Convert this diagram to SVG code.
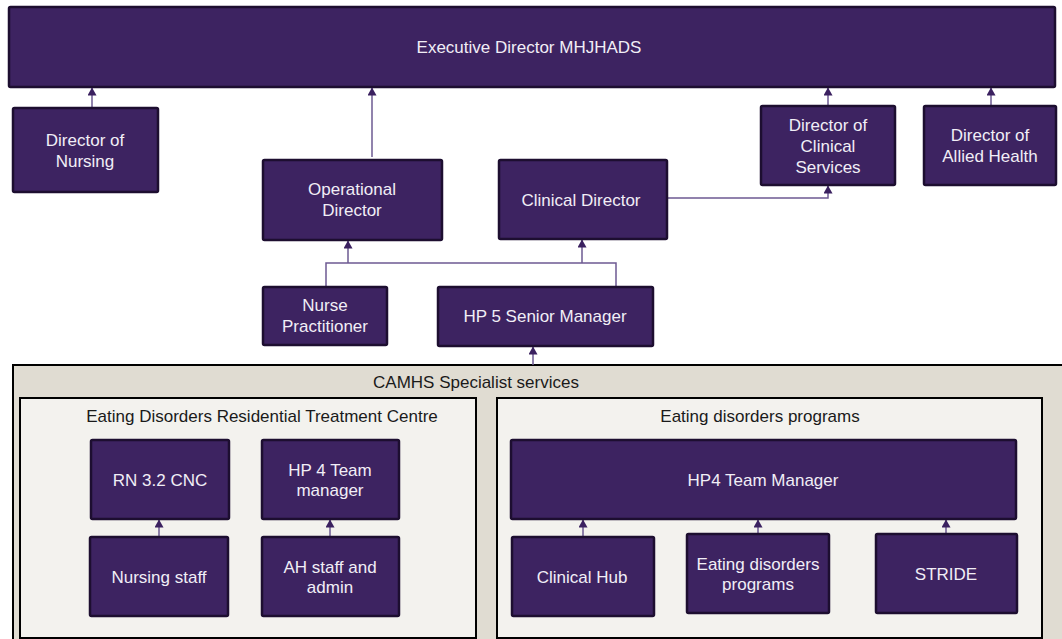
<svg xmlns="http://www.w3.org/2000/svg" width="1062" height="639" viewBox="0 0 1062 639">
  <defs>
    <marker id="arrow" markerUnits="userSpaceOnUse" markerWidth="9" markerHeight="9" refX="8" refY="4.5" orient="auto">
      <path d="M0,0 L8,4.5 L0,9 z" fill="#3b2160"/>
    </marker>
    <style>
      .node rect { fill: #3d2361; stroke: #1d0e30; stroke-width: 2.5; }
      .node text { fill: #f1eef6; font-family: "Liberation Sans", Arial, sans-serif; font-size: 17px; text-anchor: middle; }
      .group-outer { fill: #e0dcd2; stroke: #000; stroke-width: 2; }
      .group-inner { fill: #f3f2ee; stroke: #000; stroke-width: 2; }
      .group-title { fill: #1a1a1a; font-family: "Liberation Sans", Arial, sans-serif; font-size: 17px; text-anchor: middle; }
      .conn { fill: none; stroke: #6d5a92; stroke-width: 1.5; }
      .conn.arrow { marker-end: url(#arrow); }
    </style>
  </defs>

  <rect width="1062" height="639" fill="#ffffff"/>

  <!-- CAMHS container groups -->
  <g id="camhs-specialist-services">
    <rect class="group-outer" x="13" y="365" width="1070" height="300"/>
    <text class="group-title" x="476" y="388">CAMHS Specialist services</text>
  </g>
  <g id="edrtc">
    <rect class="group-inner" x="20" y="398" width="456" height="240"/>
    <text class="group-title" x="262" y="422">Eating Disorders Residential Treatment Centre</text>
  </g>
  <g id="ed-programs-group">
    <rect class="group-inner" x="497" y="398" width="545" height="240"/>
    <text class="group-title" x="760" y="422">Eating disorders programs</text>
  </g>

  <!-- Connectors -->
  <g id="connectors">
    <path class="conn arrow" d="M92,108 V87.5"/>
    <path class="conn arrow" d="M372,157 V87.5"/>
    <path class="conn arrow" d="M828,106 V87.5"/>
    <path class="conn arrow" d="M991,106 V87.5"/>
    <path class="conn arrow" d="M668,198 H828 V185.5"/>
    <path class="conn" d="M326,287 V263 H616 V287"/>
    <path class="conn arrow" d="M348,263 V240.5"/>
    <path class="conn arrow" d="M582,263 V239.5"/>
    <path class="conn arrow" d="M533,365 V346.5"/>
    <path class="conn arrow" d="M159,537 V519.5"/>
    <path class="conn arrow" d="M330,537 V519.5"/>
    <path class="conn arrow" d="M583,537 V519.5"/>
    <path class="conn arrow" d="M758,534 V519.5"/>
    <path class="conn arrow" d="M946,534 V519.5"/>
  </g>

  <!-- Nodes -->
  <g id="executive-director" class="node">
    <rect x="9" y="7" width="1046" height="80" rx="1.5"/>
    <text x="529" y="53">Executive Director MHJHADS</text>
  </g>
  <g id="director-nursing" class="node">
    <rect x="13" y="108" width="145" height="84" rx="1.5"/>
    <text x="85" y="146">Director of</text>
    <text x="85" y="167">Nursing</text>
  </g>
  <g id="operational-director" class="node">
    <rect x="263" y="160" width="179" height="80" rx="1.5"/>
    <text x="352" y="195">Operational</text>
    <text x="352" y="216">Director</text>
  </g>
  <g id="clinical-director" class="node">
    <rect x="499" y="160" width="168" height="79" rx="1.5"/>
    <text x="581" y="206">Clinical Director</text>
  </g>
  <g id="director-clinical-services" class="node">
    <rect x="761" y="106" width="134" height="79" rx="1.5"/>
    <text x="828" y="131">Director of</text>
    <text x="828" y="152">Clinical</text>
    <text x="828" y="173">Services</text>
  </g>
  <g id="director-allied-health" class="node">
    <rect x="924" y="106" width="132" height="79" rx="1.5"/>
    <text x="990" y="141">Director of</text>
    <text x="990" y="162">Allied Health</text>
  </g>
  <g id="nurse-practitioner" class="node">
    <rect x="263" y="287" width="124" height="58" rx="1.5"/>
    <text x="325" y="311">Nurse</text>
    <text x="325" y="332">Practitioner</text>
  </g>
  <g id="hp5-senior-manager" class="node">
    <rect x="438" y="287" width="215" height="59" rx="1.5"/>
    <text x="545" y="322">HP 5 Senior Manager</text>
  </g>
  <g id="rn-cnc" class="node">
    <rect x="91" y="440" width="138" height="79" rx="1.5"/>
    <text x="160" y="486">RN 3.2 CNC</text>
  </g>
  <g id="hp4-team-manager-edrtc" class="node">
    <rect x="262" y="440" width="137" height="79" rx="1.5"/>
    <text x="330" y="476">HP 4 Team</text>
    <text x="330" y="496">manager</text>
  </g>
  <g id="nursing-staff" class="node">
    <rect x="90" y="537" width="138" height="79" rx="1.5"/>
    <text x="159" y="583">Nursing staff</text>
  </g>
  <g id="ah-staff-admin" class="node">
    <rect x="262" y="537" width="137" height="79" rx="1.5"/>
    <text x="330" y="573">AH staff and</text>
    <text x="330" y="593">admin</text>
  </g>
  <g id="hp4-team-manager-programs" class="node">
    <rect x="511" y="440" width="505" height="79" rx="1.5"/>
    <text x="763" y="486">HP4 Team Manager</text>
  </g>
  <g id="clinical-hub" class="node">
    <rect x="512" y="537" width="142" height="79" rx="1.5"/>
    <text x="582" y="583">Clinical Hub</text>
  </g>
  <g id="ed-programs" class="node">
    <rect x="687" y="534" width="142" height="79" rx="1.5"/>
    <text x="758" y="570">Eating disorders</text>
    <text x="758" y="590">programs</text>
  </g>
  <g id="stride" class="node">
    <rect x="876" y="534" width="141" height="79" rx="1.5"/>
    <text x="946" y="580">STRIDE</text>
  </g>
</svg>
